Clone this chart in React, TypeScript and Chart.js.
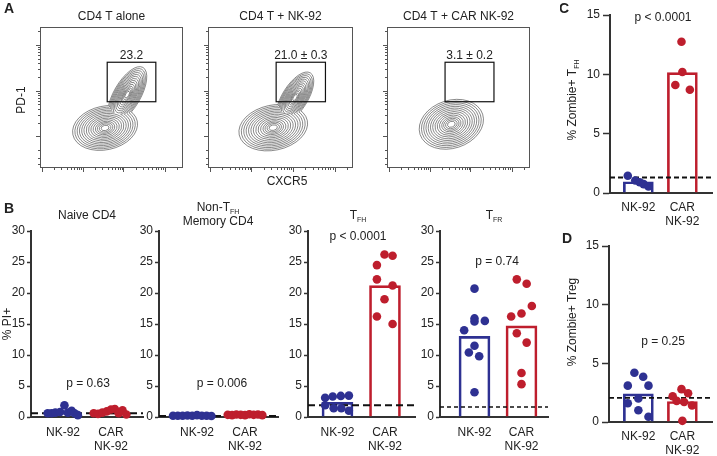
import React, { useEffect, useRef } from "react";
import { Chart, registerables } from "chart.js";

Chart.register(...registerables);

const FONT = "'Liberation Sans', Arial, Helvetica, sans-serif";
const BLUE = "#2E3192";
const RED = "#BE1E2D";
const INK = "#222222";
const AXIS = "#333333";

// ---------- Panel A (flow plots), values in plot units 0-100 ----------
const flowTitles = ["CD4 T alone", "CD4 T + NK-92", "CD4 T + CAR NK-92"];
const gateLabels = ["23.2", "21.0 \u00b1 0.3", "3.1 \u00b1 0.2"];
const gateX1 = [47, 47, 40.6];
const gateX2 = [81, 81, 74.8];
const gateY1 = [47, 47, 47];
const gateY2 = [75, 75, 75];
// lobes: [centerX, centerY, radiusX, radiusY, angleDeg]
const contourLobes = [
  [
    [45.5, 28.4, 23, 15.5, 12],
    [61, 52, 22, 9.5, 60],
  ],
  [
    [45, 28.6, 24, 16, 12],
    [60, 50, 20, 9, 58],
  ],
  [[45, 31, 23, 17, 18]],
];
const contourLevels = [1, 0.93, 0.86, 0.79, 0.72, 0.65, 0.58, 0.51, 0.44, 0.37, 0.3, 0.24, 0.18, 0.12];
const flowXMajor = [1.2, 29.9, 58.3, 87.4];
const flowXDecade = 28.9;
const flowYMajor = [22.4, 54.8, 87.2];
const flowYDecade = 32.4;

// ---------- Panels B-D ----------
const categories = [["NK-92"], ["CAR", "NK-92"]];

const naiveNk = [0.6, 0.6, 0.7, 0.8, 1.9, 0.7, 1.0, 0.6, 0.3];
const naiveNkJit = [-0.32, -0.24, -0.16, -0.06, 0.03, 0.1, 0.18, 0.24, 0.31];
const naiveCar = [0.6, 0.5, 0.7, 0.9, 1.2, 1.3, 0.6, 1.1, 0.4];
const naiveCarJit = [-0.36, -0.27, -0.18, -0.09, 0.0, 0.08, 0.16, 0.24, 0.32];
const naiveBars = [0.8, 0.8];
const naiveCutoff = 0.6;

const memNk = [0.2, 0.2, 0.2, 0.25, 0.2, 0.3, 0.2, 0.2, 0.15];
const memNkJit = [-0.5, -0.4, -0.3, -0.2, -0.1, 0.0, 0.1, 0.2, 0.3];
const memCar = [0.35, 0.3, 0.4, 0.35, 0.3, 0.45, 0.35, 0.4, 0.3];
const memCarJit = [-0.36, -0.27, -0.18, -0.09, 0.0, 0.09, 0.18, 0.27, 0.36];
const memBars = [0.2, 0.35];
const memCutoff = 0.15;

const tfhNk = [3.1, 3.3, 3.4, 3.45, 1.9, 1.4, 1.4, 1.0];
const tfhNkJit = [-0.26, -0.1, 0.07, 0.24, -0.26, -0.08, 0.08, 0.24];
const tfhCar = [26.2, 26.0, 24.5, 22.2, 21.2, 19.0, 16.2, 15.0];
const tfhCarJit = [-0.01, 0.16, -0.17, -0.17, 0.16, -0.01, -0.17, 0.16];
const tfhBars = [2.37, 21.2];
const tfhCutoff = 1.9;

const tfrNk = [20.7, 15.9, 15.4, 15.5, 14.0, 11.5, 10.4, 9.8, 4.0];
const tfrNkJit = [0, 0, 0, 0.22, -0.22, 0, -0.12, 0.1, 0];
const tfrCar = [22.2, 21.5, 17.9, 16.7, 16.2, 13.5, 12.0, 7.1, 5.3];
const tfrCarJit = [-0.1, 0.11, 0.22, 0, -0.22, -0.1, 0.11, 0, 0];
const tfrBars = [13.0, 14.7];
const tfrCutoff = 1.6;

const zTfhNk = [1.45, 1.05, 0.9, 0.75, 0.55];
const zTfhNkJit = [-0.24, -0.07, 0.03, 0.12, 0.23];
const zTfhCar = [12.75, 10.2, 9.1, 8.7];
const zTfhCarJit = [-0.02, 0.0, -0.16, 0.17];
const zTfhBars = [0.95, 10.15];
const zTfhCutoff = 1.3;

const zTregNk = [4.2, 3.86, 3.1, 3.1, 2.0, 1.6, 1.0, 0.45];
const zTregNkJit = [-0.09, 0.11, -0.24, 0.23, 0, -0.24, 0, 0.23];
const zTregCar = [2.8, 2.45, 2.2, 1.8, 1.7, 1.4, 0.1];
const zTregCarJit = [-0.02, 0.13, -0.22, -0.13, 0.04, 0.22, 0];
const zTregBars = [2.4, 1.75];
const zTregCutoff = 2.05;

type Part = string | { t: string; sub?: boolean };
type TextItem = {
  x: number;
  y: number;
  parts: Part[];
  size?: number;
  bold?: boolean;
  align?: "left" | "center" | "right";
  rot?: number;
};

function drawRich(ctx: CanvasRenderingContext2D, it: TextItem, x: number, y: number) {
  const size = it.size ?? 12;
  const mainFont = `${it.bold ? "bold " : ""}${size}px ${FONT}`;
  const subFont = `${Math.round(size * 0.62)}px ${FONT}`;
  const parts = it.parts.map((p) => (typeof p === "string" ? { t: p, sub: false } : { t: p.t, sub: !!p.sub }));
  ctx.save();
  ctx.fillStyle = INK;
  ctx.textBaseline = "middle";
  ctx.textAlign = "left";
  const widths = parts.map((p) => {
    ctx.font = p.sub ? subFont : mainFont;
    return ctx.measureText(p.t).width;
  });
  const total = widths.reduce((s, w) => s + w, 0);
  ctx.translate(x, y);
  if (it.rot) ctx.rotate((it.rot * Math.PI) / 180);
  let cx = it.align === "left" ? 0 : it.align === "right" ? -total : -total / 2;
  parts.forEach((p, i) => {
    ctx.font = p.sub ? subFont : mainFont;
    ctx.fillText(p.t, cx, p.sub ? size * 0.32 : 0);
    cx += widths[i];
  });
  ctx.restore();
}

const textPlugin = (items: TextItem[], ox: number, oy: number) => ({
  id: "texts",
  afterDraw(chart: any) {
    items.forEach((it) => drawRich(chart.ctx, it, it.x - ox, it.y - oy));
  },
});

const flowPlugin = (i: number) => ({
  id: "flow",
  afterDraw(chart: any) {
    const { ctx, chartArea: a, scales } = chart;
    const X = (v: number) => scales.x.getPixelForValue(v);
    const Y = (v: number) => scales.y.getPixelForValue(v);
    const kx = (a.right - a.left) / 100;
    const ky = (a.bottom - a.top) / 100;
    const lobes = contourLobes[i].map(([cx, cy, rx, ry, rot]) => ({
      x: X(cx),
      y: Y(cy),
      rx: rx * kx,
      ry: ry * ky,
      rot: (-rot * Math.PI) / 180,
    }));
    ctx.save();
    ctx.strokeStyle = "rgba(55,55,55,0.85)";
    ctx.lineWidth = 0.7;
    contourLevels.forEach((s) => {
      lobes.forEach((p, k) => {
        ctx.save();
        lobes.forEach((q, j) => {
          if (j === k) return;
          ctx.beginPath();
          ctx.rect(0, 0, chart.width, chart.height);
          ctx.moveTo(q.x + q.rx * s * Math.cos(q.rot), q.y + q.rx * s * Math.sin(q.rot));
          ctx.ellipse(q.x, q.y, q.rx * s, q.ry * s, q.rot, 0, Math.PI * 2);
          ctx.clip("evenodd");
        });
        ctx.beginPath();
        ctx.ellipse(p.x, p.y, p.rx * s, p.ry * s, p.rot, 0, Math.PI * 2);
        ctx.stroke();
        ctx.restore();
      });
    });
    // frame
    ctx.strokeStyle = "#555";
    ctx.lineWidth = 1;
    ctx.strokeRect(a.left + 0.5, a.top + 0.5, a.right - a.left - 1, a.bottom - a.top - 1);
    // ticks
    const tickX = (v: number, len: number) => {
      const px = Math.round(X(v)) + 0.5;
      ctx.beginPath();
      ctx.moveTo(px, a.bottom);
      ctx.lineTo(px, a.bottom + len);
      ctx.stroke();
    };
    const tickY = (v: number, len: number) => {
      const py = Math.round(Y(v)) + 0.5;
      ctx.beginPath();
      ctx.moveTo(a.left, py);
      ctx.lineTo(a.left - len, py);
      ctx.stroke();
    };
    flowXMajor.forEach((m) => {
      tickX(m, 4);
      for (let k = 2; k <= 9; k++) {
        const v = m + flowXDecade * Math.log10(k);
        if (v < 99) tickX(v, 2);
      }
    });
    flowYMajor.forEach((m, idx) => {
      tickY(m, 4);
      for (let k = 2; k <= 9; k++) {
        const v = m + flowYDecade * Math.log10(k);
        if (v < 99) tickY(v, 2);
        if (idx === 0) {
          const w = m - flowYDecade * Math.log10(k);
          if (w > 1) tickY(w, 2);
        }
      }
    });
    // gate
    ctx.strokeStyle = "#111";
    ctx.lineWidth = 1.2;
    const gx1 = X(gateX1[i]);
    const gx2 = X(gateX2[i]);
    const gy1 = Y(gateY1[i]);
    const gy2 = Y(gateY2[i]);
    ctx.strokeRect(gx1, gy2, gx2 - gx1, gy1 - gy2);
    ctx.restore();
    drawRich(ctx, { x: 0, y: 0, parts: [gateLabels[i]], size: 12 }, (gx1 + gx2) / 2, gy2 - 7);
  },
});

function flowConfig(i: number, pad: any, items: TextItem[], ox: number, oy: number) {
  return {
    type: "scatter",
    data: { datasets: [] },
    options: {
      responsive: false,
      maintainAspectRatio: false,
      animation: false,
      events: [],
      layout: { padding: pad },
      scales: {
        x: { type: "linear", min: 0, max: 100, display: false },
        y: { type: "linear", min: 0, max: 100, display: false },
      },
      plugins: { legend: { display: false }, tooltip: { enabled: false } },
    },
    plugins: [flowPlugin(i), textPlugin(items, ox, oy)],
  };
}

type DotBarSpec = {
  left: number;
  top: number;
  width: number;
  height: number;
  pad: { left: number; right: number; top: number; bottom: number };
  yw: number;
  xh: number;
  yMax: number;
  xMin: number;
  xMax: number;
  bars: number[];
  nk: number[];
  nkJit: number[];
  car: number[];
  carJit: number[];
  cutoff: number;
  dash: number[];
  dashWidth: number;
  barWidth: number;
  tickLen: number;
  tickPad: number;
  labelPad: number;
  texts: TextItem[];
};

function dotBarConfig(p: DotBarSpec) {
  const dots = (vals: number[], jit: number[], center: number, color: string) => ({
    type: "scatter",
    data: vals.map((v, i) => ({ x: center + jit[i], y: v })),
    backgroundColor: color,
    borderColor: color,
    borderWidth: 0,
    pointRadius: 4.3,
    pointHoverRadius: 4.3,
    order: 0,
    clip: false,
  });
  return {
    type: "bar",
    data: {
      datasets: [
        dots(p.nk, p.nkJit, 1, BLUE),
        dots(p.car, p.carJit, 2, RED),
        {
          type: "line",
          data: [
            { x: p.xMin, y: p.cutoff },
            { x: p.xMax, y: p.cutoff },
          ],
          borderColor: "#111",
          borderWidth: p.dashWidth,
          borderDash: p.dash,
          pointRadius: 0,
          fill: false,
          order: 1,
          clip: false,
        },
        {
          type: "bar",
          data: p.bars.map((v, i) => ({ x: i + 1, y: v })),
          backgroundColor: "rgba(255,255,255,0)",
          borderColor: [BLUE, RED],
          borderWidth: 2,
          barThickness: p.barWidth,
          order: 2,
        },
      ],
    },
    options: {
      responsive: false,
      maintainAspectRatio: false,
      animation: false,
      events: [],
      layout: { padding: p.pad },
      plugins: { legend: { display: false }, tooltip: { enabled: false } },
      scales: {
        x: {
          type: "linear",
          min: p.xMin,
          max: p.xMax,
          offset: false,
          grid: { display: false, drawTicks: false, tickLength: 0 },
          border: { display: true, color: AXIS, width: 2 },
          afterBuildTicks: (s: any) => {
            s.ticks = [{ value: 1 }, { value: 2 }];
          },
          afterFit: (s: any) => {
            s.height = p.xh;
          },
          ticks: {
            autoSkip: false,
            maxRotation: 0,
            minRotation: 0,
            padding: p.labelPad,
            color: INK,
            font: { size: 12, family: FONT },
            callback: (_v: any, idx: number) => categories[idx],
          },
        },
        y: {
          type: "linear",
          min: 0,
          max: p.yMax,
          grid: {
            display: true,
            drawOnChartArea: false,
            drawTicks: true,
            tickLength: p.tickLen,
            tickWidth: 1.5,
            tickColor: AXIS,
            color: AXIS,
          },
          border: { display: true, color: AXIS, width: 2 },
          afterFit: (s: any) => {
            s.width = p.yw;
          },
          ticks: {
            stepSize: 5,
            padding: p.tickPad,
            color: INK,
            font: { size: 12, family: FONT },
          },
        },
      },
    },
    plugins: [textPlugin(p.texts, p.left, p.top)],
  };
}

function ChartBox({ left, top, width, height, make }: { left: number; top: number; width: number; height: number; make: () => any }) {
  const ref = useRef<HTMLCanvasElement>(null);
  useEffect(() => {
    const chart = new Chart(ref.current as HTMLCanvasElement, make());
    return () => chart.destroy();
  }, []);
  return (
    <canvas
      ref={ref}
      width={width}
      height={height}
      style={{ position: "absolute", left, top, width, height }}
    />
  );
}

const sub = (t: string) => ({ t, sub: true });

const bBase = { top: 195, height: 261, xh: 39, yMax: 30, barWidth: 31, tickLen: 4, tickPad: 2, labelPad: 8 };

const specNaive: DotBarSpec = {
  ...bBase,
  left: 0,
  width: 150,
  pad: { left: 0, right: 7, top: 36, bottom: 0 },
  yw: 31,
  xMin: 0.333,
  xMax: 2.667,
  bars: naiveBars,
  nk: naiveNk,
  nkJit: naiveNkJit,
  car: naiveCar,
  carJit: naiveCarJit,
  cutoff: naiveCutoff,
  dash: [7, 4],
  dashWidth: 2,
  texts: [
    { x: 9, y: 209, parts: ["B"], size: 14, bold: true },
    { x: 87, y: 216, parts: ["Naive CD4"] },
    { x: 8, y: 324, parts: ["% PI+"], rot: -90 },
    { x: 88, y: 384, parts: ["p = 0.63"] },
  ],
};

const specMem: DotBarSpec = {
  ...bBase,
  left: 130,
  width: 155,
  pad: { left: 0, right: 7, top: 36, bottom: 0 },
  yw: 29,
  xMin: 0.208,
  xMax: 2.687,
  bars: memBars,
  nk: memNk,
  nkJit: memNkJit,
  car: memCar,
  carJit: memCarJit,
  cutoff: memCutoff,
  dash: [7, 4],
  dashWidth: 2,
  texts: [
    { x: 218, y: 208, parts: ["Non-T", sub("FH")] },
    { x: 218, y: 222, parts: ["Memory CD4"] },
    { x: 222, y: 384, parts: ["p = 0.006"] },
  ],
};

const specTfh: DotBarSpec = {
  ...bBase,
  left: 280,
  width: 140,
  pad: { left: 0, right: 5, top: 36, bottom: 0 },
  yw: 28,
  xMin: 0.379,
  xMax: 2.632,
  bars: tfhBars,
  nk: tfhNk,
  nkJit: tfhNkJit,
  car: tfhCar,
  carJit: tfhCarJit,
  cutoff: tfhCutoff,
  dash: [7, 4],
  dashWidth: 2,
  texts: [
    { x: 358, y: 216, parts: ["T", sub("FH")] },
    { x: 358, y: 237, parts: ["p < 0.0001"] },
  ],
};

const specTfr: DotBarSpec = {
  ...bBase,
  left: 412,
  width: 143,
  pad: { left: 0, right: 7, top: 36, bottom: 0 },
  yw: 28,
  xMin: 0.266,
  xMax: 2.564,
  bars: tfrBars,
  nk: tfrNk,
  nkJit: tfrNkJit,
  car: tfrCar,
  carJit: tfrCarJit,
  cutoff: tfrCutoff,
  dash: [4, 3],
  dashWidth: 1.5,
  texts: [
    { x: 494, y: 216, parts: ["T", sub("FR")] },
    { x: 497, y: 262, parts: ["p = 0.74"] },
  ],
};

const specC: DotBarSpec = {
  left: 560,
  top: 0,
  width: 157,
  height: 230,
  pad: { left: 0, right: 2, top: 15, bottom: 0 },
  yw: 50,
  xh: 37,
  yMax: 15,
  xMin: 0.356,
  xMax: 2.689,
  bars: zTfhBars,
  nk: zTfhNk,
  nkJit: zTfhNkJit,
  car: zTfhCar,
  carJit: zTfhCarJit,
  cutoff: zTfhCutoff,
  dash: [5, 3],
  dashWidth: 2,
  barWidth: 30,
  tickLen: 7,
  tickPad: 3,
  labelPad: 7,
  texts: [
    { x: 564, y: 9, parts: ["C"], size: 14, bold: true },
    { x: 573, y: 100, parts: ["% Zombie+ T", sub("FH")], rot: -90 },
    { x: 663, y: 18, parts: ["p < 0.0001"] },
  ],
};

const specD: DotBarSpec = {
  left: 560,
  top: 230,
  width: 157,
  height: 226,
  pad: { left: 0, right: 2, top: 16, bottom: 0 },
  yw: 49,
  xh: 34,
  yMax: 15,
  xMin: 0.333,
  xMax: 2.689,
  bars: zTregBars,
  nk: zTregNk,
  nkJit: zTregNkJit,
  car: zTregCar,
  carJit: zTregCarJit,
  cutoff: zTregCutoff,
  dash: [5, 3],
  dashWidth: 1.8,
  barWidth: 30,
  tickLen: 7,
  tickPad: 3,
  labelPad: 7,
  texts: [
    { x: 567, y: 239, parts: ["D"], size: 14, bold: true },
    { x: 573, y: 322, parts: ["% Zombie+ Treg"], rot: -90 },
    { x: 663, y: 342, parts: ["p = 0.25"] },
  ],
};

const dotSpecs = [specNaive, specMem, specTfh, specTfr, specC, specD];

const flowBoxes = [
  {
    left: 0,
    width: 190,
    pad: { left: 40, right: 7, top: 27, bottom: 27 },
    texts: [
      { x: 9, y: 9, parts: ["A"], size: 14, bold: true },
      { x: 111.5, y: 17, parts: [flowTitles[0]] },
      { x: 22, y: 100, parts: ["PD-1"], rot: -90 },
    ] as TextItem[],
  },
  {
    left: 196,
    width: 165,
    pad: { left: 12, right: 8, top: 27, bottom: 27 },
    texts: [
      { x: 280.5, y: 17, parts: [flowTitles[1]] },
      { x: 287, y: 182, parts: ["CXCR5"] },
    ] as TextItem[],
  },
  {
    left: 375,
    width: 165,
    pad: { left: 12, right: 10, top: 27, bottom: 27 },
    texts: [{ x: 458.5, y: 17, parts: [flowTitles[2]] }] as TextItem[],
  },
];

export default function App() {
  return (
    <div
      style={{
        position: "absolute",
        left: 0,
        top: 0,
        width: 717,
        height: 456,
        background: "#fff",
        overflow: "hidden",
      }}
    >
      {flowBoxes.map((b, i) => (
        <ChartBox
          key={"f" + i}
          left={b.left}
          top={0}
          width={b.width}
          height={195}
          make={() => flowConfig(i, b.pad, b.texts, b.left, 0)}
        />
      ))}
      {dotSpecs.map((s, i) => (
        <ChartBox key={"d" + i} left={s.left} top={s.top} width={s.width} height={s.height} make={() => dotBarConfig(s)} />
      ))}
    </div>
  );
}
